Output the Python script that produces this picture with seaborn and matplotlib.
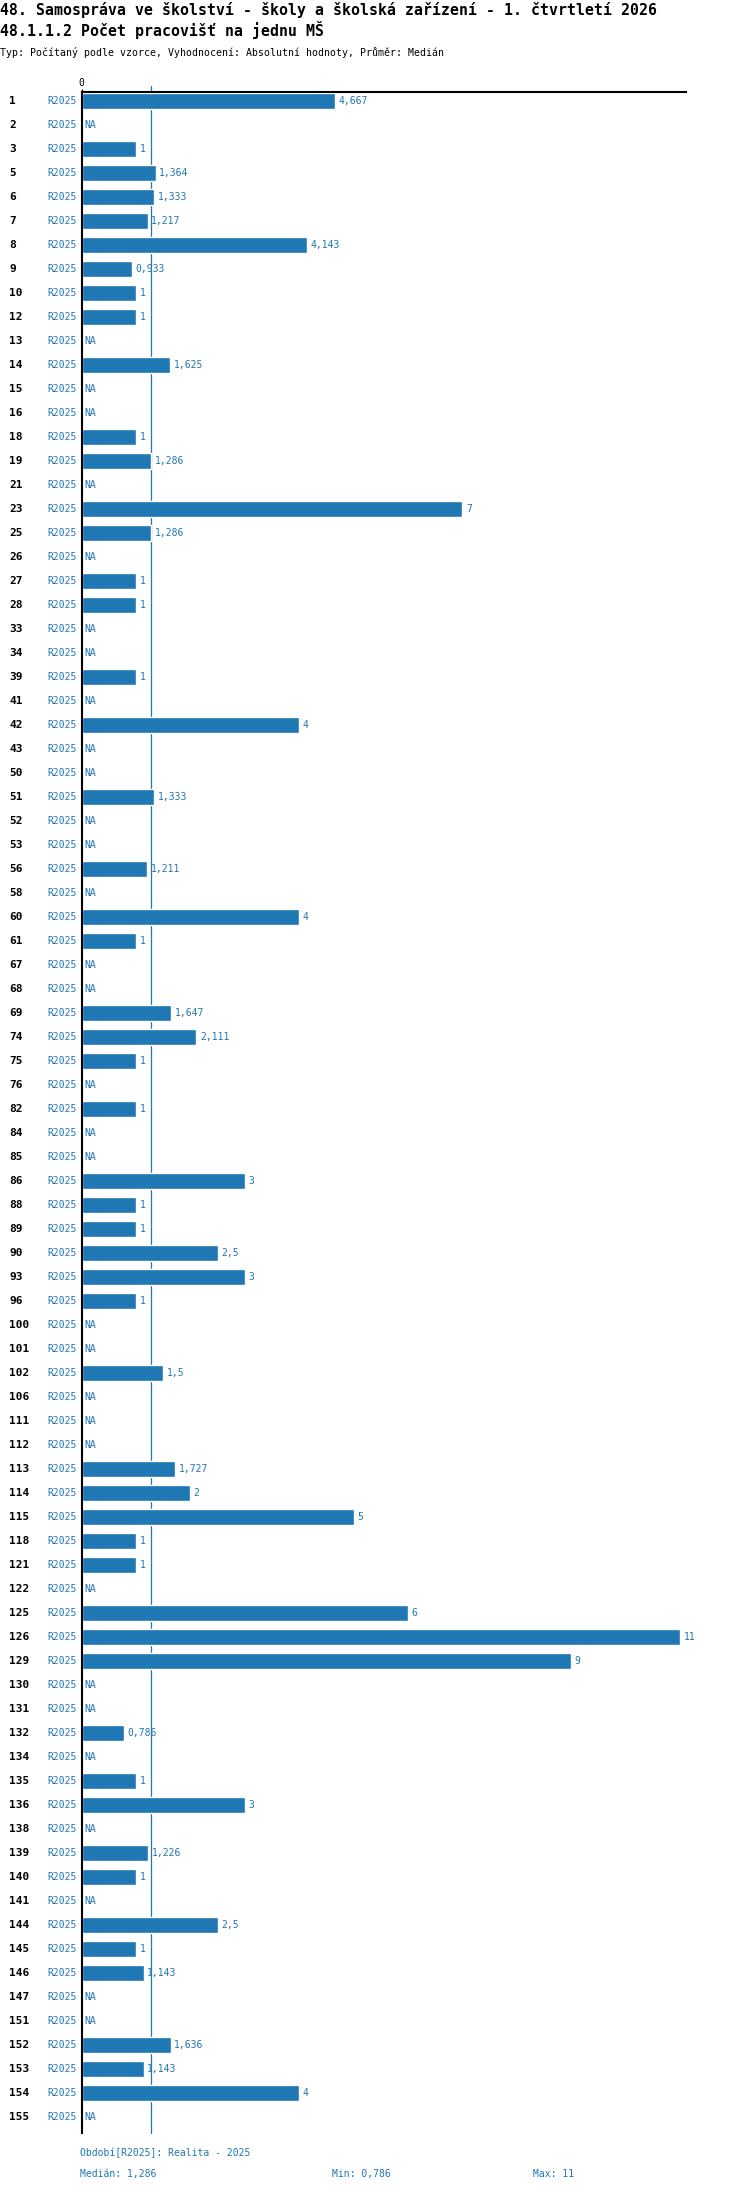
import numpy as np
import pandas as pd
import seaborn as sns
import matplotlib.pyplot as plt
from matplotlib.transforms import blended_transform_factory

# row ids (units) and values, None = NA
units = [1, 2, 3, 5, 6, 7, 8, 9, 10, 12, 13, 14, 15, 16, 18, 19, 21, 23, 25, 26,
         27, 28, 33, 34, 39, 41, 42, 43, 50, 51, 52, 53, 56, 58, 60, 61, 67, 68, 69, 74,
         75, 76, 82, 84, 85, 86, 88, 89, 90, 93, 96, 100, 101, 102, 106, 111, 112, 113, 114, 115,
         118, 121, 122, 125, 126, 129, 130, 131, 132, 134, 135, 136, 138, 139, 140, 141, 144, 145, 146, 147,
         151, 152, 153, 154, 155]
values = [4.667, None, 1, 1.364, 1.333, 1.217, 4.143, 0.933, 1, 1, None, 1.625, None, None, 1, 1.286, None, 7, 1.286, None,
          1, 1, None, None, 1, None, 4, None, None, 1.333, None, None, 1.211, None, 4, 1, None, None, 1.647, 2.111,
          1, None, 1, None, None, 3, 1, 1, 2.5, 3, 1, None, None, 1.5, None, None, None, 1.727, 2, 5,
          1, 1, None, 6, 11, 9, None, None, 0.786, None, 1, 3, None, 1.226, 1, None, 2.5, 1, 1.143, None,
          None, 1.636, 1.143, 4, None]
period = 'R2025'
median_val = 1.286
min_val = 0.786
max_val = 11

title1 = '48. Samospráva ve školství - školy a školská zařízení - 1. čtvrtletí 2026'
title2 = '48.1.1.2 Počet pracovišť na jednu MŠ'
subtitle = 'Typ: Počítaný podle vzorce, Vyhodnocení: Absolutní hodnoty, Průměr: Medián'
footer1 = 'Období[R2025]: Realita - 2025'

blue = '#1f77b4'
mono = 'DejaVu Sans Mono'

df = pd.DataFrame({'unit': [str(u) for u in units],
                   'value': [np.nan if v is None else v for v in values]})

sns.set_style('white')
plt.rcParams['font.family'] = [mono, 'DejaVu Sans']
plt.rcParams['text.color'] = 'black'
plt.rcParams['xtick.color'] = 'black'

W, H = 750, 2192
fig = plt.figure(figsize=(W / 100, H / 100), dpi=100)
ax = fig.add_axes([81.5 / W, 1 - 2133 / H, (686 - 81.5) / W, (2133 - 92) / H])

sns.barplot(data=df, x='value', y='unit', order=df['unit'], orient='h',
            color=blue, saturation=1, width=0.667, ax=ax)

n = len(units)
ax.set_ylim(n - 1 + 0.667, -0.375)
ax.set_xlim(0, 11.11)
ax.set_xlabel('')
ax.set_ylabel('')
ax.set_yticks([])

ax.xaxis.tick_top()
ax.set_xticks([0])
ax.set_xticklabels(['0'])
ax.tick_params(axis='x', length=2, width=1, pad=1, labelsize=7, labelcolor='black')

for s in ['bottom', 'right']:
    ax.spines[s].set_visible(False)
for s in ['top', 'left']:
    ax.spines[s].set_color('black')
    ax.spines[s].set_linewidth(1.5)

ax.axvline(median_val, ymin=0, ymax=1.003, color=blue, lw=0.9, clip_on=False, zorder=0)

def fmt(v):
    s = f'{v:.3f}'.rstrip('0').rstrip('.')
    return s.replace('.', ',')

tr = blended_transform_factory(fig.transFigure, ax.transData)
for i, (u, v) in enumerate(zip(units, values)):
    ax.text(9 / W, i, str(u), transform=tr, ha='left', va='center',
            fontsize=8, fontweight='bold', color='black')
    ax.text(77 / W, i, period, transform=tr, ha='right', va='center',
            fontsize=7, color=blue)
    if v is None:
        ax.annotate('NA', (0, i), xytext=(2, 0), textcoords='offset points',
                    ha='left', va='center', fontsize=7, color=blue)
    else:
        ax.annotate(fmt(v), (v, i), xytext=(2.5, 0), textcoords='offset points',
                    ha='left', va='center', fontsize=7, color=blue)

fig.text(0, 1 - 9.5 / H, title1, ha='left', va='center', fontsize=10.7, fontweight='bold', color='black')
fig.text(0, 1 - 30 / H, title2, ha='left', va='center', fontsize=10.7, fontweight='bold', color='black')
fig.text(0, 1 - 52 / H, subtitle, ha='left', va='center', fontsize=7.1, color='black')

fig.text(80 / W, 1 - 2153 / H, footer1, ha='left', va='center', fontsize=7, color=blue)
fig.text(80 / W, 1 - 2174 / H, 'Medián: ' + fmt(median_val), ha='left', va='center', fontsize=7, color=blue)
fig.text(332 / W, 1 - 2174 / H, 'Min: ' + fmt(min_val), ha='left', va='center', fontsize=7, color=blue)
fig.text(533 / W, 1 - 2174 / H, 'Max: ' + fmt(max_val), ha='left', va='center', fontsize=7, color=blue)

fig.savefig('out.png', dpi=100)
